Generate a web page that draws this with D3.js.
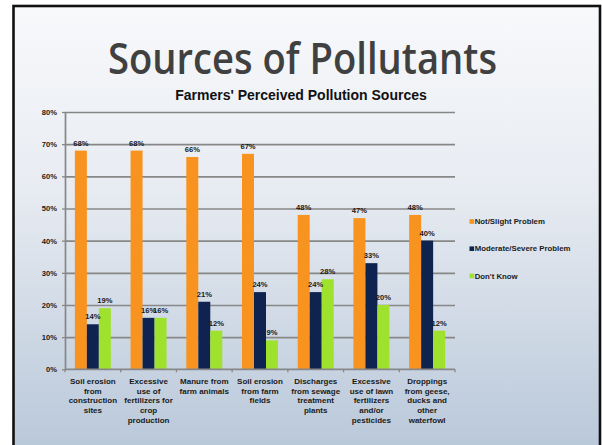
<!DOCTYPE html>
<html>
<head>
<meta charset="utf-8">
<script src="https://cdn.jsdelivr.net/npm/d3@7"></script>
<style>
  html, body { margin: 0; padding: 0; background: #ffffff; }
  svg { display: block; }
</style>
</head>
<body>
<svg id="chart" width="602" height="445"></svg>
<script>
// Survey categories (line breaks as drawn under the axis)
const categories = [
  "Soil erosion\nfrom\nconstruction\nsites",
  "Excessive\nuse of\nfertilizers for\ncrop\nproduction",
  "Manure from\nfarm animals",
  "Soil erosion\nfrom farm\nfields",
  "Discharges\nfrom sewage\ntreatment\nplants",
  "Excessive\nuse of lawn\nfertilizers\nand/or\npesticides",
  "Droppings\nfrom geese,\nducks and\nother\nwaterfowl"
];
const seriesNames = ["Not/Slight Problem", "Moderate/Severe Problem", "Don't Know"];
const notSlight = [68, 68, 66, 67, 48, 47, 48];
const moderateSevere = [14, 16, 21, 24, 24, 33, 40];
const dontKnow = [19, 16, 12, 9, 28, 20, 12];
const yTicks = [0, 10, 20, 30, 40, 50, 60, 70, 80];

const seriesValues = [notSlight, moderateSevere, dontKnow];
const colors = ["#f7931e", "#0f2350", "#9ee22e"];

const svg = d3.select("#chart");
const W = 602, H = 445;

// Slide background
const defs = svg.append("defs");
const grad = defs.append("linearGradient")
  .attr("id", "slideBg").attr("x1", 0).attr("y1", 0).attr("x2", 0).attr("y2", 1);
grad.append("stop").attr("offset", "0%").attr("stop-color", "#f8f9fb");
grad.append("stop").attr("offset", "40%").attr("stop-color", "#e8ecf2");
grad.append("stop").attr("offset", "100%").attr("stop-color", "#b8c7d9");

svg.append("rect").attr("x", 0).attr("y", 0).attr("width", W).attr("height", H).attr("fill", "#ffffff");
svg.append("rect")
  .attr("x", 13.5).attr("y", 6).attr("width", 586.5).attr("height", 450)
  .attr("fill", "url(#slideBg)")
  .attr("stroke", "#111111").attr("stroke-width", 2.6);

// Slide title
svg.append("text")
  .attr("x", 302.5).attr("y", 73.5)
  .attr("text-anchor", "middle")
  .attr("font-family", "'Open Sans', Lato, sans-serif")
  .attr("font-weight", 600)
  .attr("font-size", 43)
  .attr("fill", "#404040")
  .attr("textLength", 389)
  .attr("lengthAdjust", "spacingAndGlyphs")
  .text("Sources of Pollutants");

// Chart title
svg.append("text")
  .attr("x", 301).attr("y", 99.5)
  .attr("text-anchor", "middle")
  .attr("font-family", "'Liberation Sans', Arial, sans-serif")
  .attr("font-weight", "bold")
  .attr("font-size", 14)
  .attr("fill", "#111111")
  .text("Farmers' Perceived Pollution Sources");

// Plot area
const plot = { left: 65, right: 455, top: 112, bottom: 369.3 };

const y = d3.scaleLinear().domain([0, 80]).range([plot.bottom, plot.top]);
const x0 = d3.scaleBand()
  .domain(d3.range(categories.length))
  .range([plot.left, plot.right])
  .paddingInner(0.354)
  .paddingOuter(0.177);
const x1 = d3.scaleBand()
  .domain(d3.range(seriesNames.length))
  .range([0, x0.bandwidth()]);

const labelFont = "'Liberation Sans', Arial, sans-serif";
const gridColor = "#878787";

// Horizontal gridlines
svg.append("g")
  .attr("transform", `translate(${plot.left},0)`)
  .call(d3.axisLeft(y).tickValues(yTicks.slice(1)).tickSize(-(plot.right - plot.left)).tickFormat(""))
  .call(g => g.select(".domain").remove())
  .call(g => g.selectAll("line").attr("stroke", gridColor).attr("stroke-width", 1.7));

// Y axis with percent labels
svg.append("g")
  .attr("transform", `translate(${plot.left},0)`)
  .call(d3.axisLeft(y).tickValues(yTicks).tickSize(3).tickPadding(5).tickSizeOuter(0).tickFormat(d => d + "%"))
  .call(g => g.select(".domain").attr("stroke", gridColor).attr("stroke-width", 1.7))
  .call(g => g.selectAll("line").attr("stroke", gridColor).attr("stroke-width", 1.3))
  .call(g => g.selectAll("text")
    .attr("font-family", labelFont).attr("font-weight", "bold")
    .attr("font-size", 7.6).attr("fill", "#1a1a1a"));

// Bars
const groups = svg.append("g").selectAll("g")
  .data(categories.map((c, i) => i))
  .join("g")
  .attr("transform", i => `translate(${x0(i)},0)`);

groups.selectAll("rect")
  .data(i => seriesValues.map((vals, s) => ({ s, v: vals[i] })))
  .join("rect")
  .attr("x", d => x1(d.s))
  .attr("y", d => y(d.v))
  .attr("width", x1.bandwidth())
  .attr("height", d => y(0) - y(d.v))
  .attr("fill", d => colors[d.s]);

// Value labels
groups.selectAll("text")
  .data(i => seriesValues.map((vals, s) => ({ s, v: vals[i] })))
  .join("text")
  .attr("x", d => x1(d.s) + x1.bandwidth() / 2)
  .attr("y", d => y(d.v) - 5)
  .attr("text-anchor", "middle")
  .attr("font-family", labelFont).attr("font-weight", "bold")
  .attr("font-size", 7.6).attr("fill", "#1a1a1a")
  .text(d => d.v + "%");

// Category axis line and boundary ticks
const step = x0.step();
svg.append("line")
  .attr("x1", plot.left).attr("x2", plot.right)
  .attr("y1", y(0)).attr("y2", y(0))
  .attr("stroke", gridColor).attr("stroke-width", 1.8);
svg.append("g").selectAll("line")
  .data(d3.range(categories.length + 1))
  .join("line")
  .attr("x1", i => plot.left + i * step).attr("x2", i => plot.left + i * step)
  .attr("y1", y(0)).attr("y2", y(0) + 3)
  .attr("stroke", gridColor).attr("stroke-width", 1.3);

// Category labels
svg.append("g").selectAll("text")
  .data(categories)
  .join("text")
  .attr("x", (c, i) => x0(i) + x0.bandwidth() / 2)
  .attr("y", 384)
  .attr("text-anchor", "middle")
  .attr("font-family", labelFont).attr("font-weight", "bold")
  .attr("font-size", 8).attr("fill", "#1a1a1a")
  .each(function (c) {
    d3.select(this).selectAll("tspan")
      .data(c.split("\n"))
      .join("tspan")
      .attr("x", d3.select(this).attr("x"))
      .attr("dy", (d, k) => k === 0 ? 0 : 9.7)
      .text(d => d);
  });

// Legend
const legend = svg.append("g").selectAll("g")
  .data(seriesNames)
  .join("g")
  .attr("transform", (d, i) => `translate(469.5,${221.5 + i * 27.2})`);
legend.append("rect")
  .attr("x", 0).attr("y", -2.3).attr("width", 4.6).attr("height", 4.6)
  .attr("fill", (d, i) => colors[i]);
legend.append("text")
  .attr("x", 5.2).attr("y", 2.6)
  .attr("font-family", labelFont).attr("font-weight", "bold")
  .attr("font-size", 7.8).attr("fill", "#1a1a1a")
  .text(d => d);
</script>
</body>
</html>
